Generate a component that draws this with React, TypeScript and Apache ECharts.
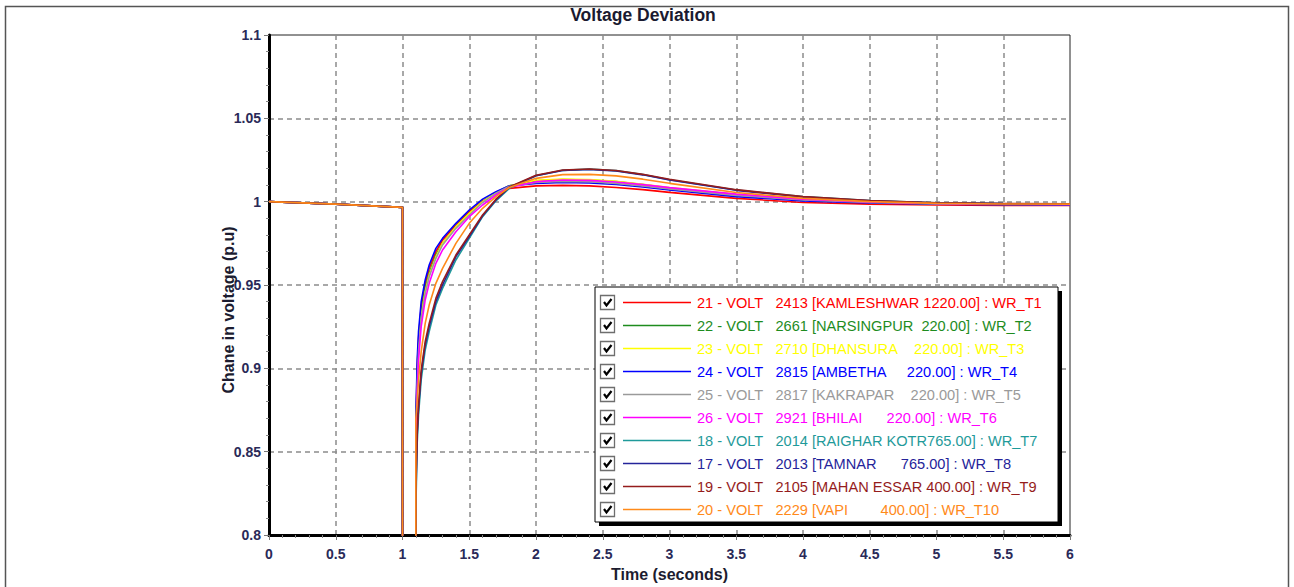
import React, { useEffect, useRef } from "react";
import * as echarts from "echarts";

// ---- data ----
const TIME = [
  0, 0.5, 1.0, 1.0, 1.1,
  1.1, 1.11, 1.12, 1.14, 1.17, 1.2, 1.25, 1.3, 1.4, 1.5, 1.6, 1.7, 1.8,
  2.0, 2.2, 2.4, 2.6, 2.8, 3.0, 3.5, 4.0, 4.5, 5.0, 5.5, 6.0,
];

// pre-fault + fault (fault value is below the visible range)
const PRE = [1.0, 0.9985, 0.9966, 0.75, 0.75];

const V21 = [0.865, 0.9, 0.918, 0.937, 0.951, 0.96, 0.97, 0.977, 0.986, 0.994, 1.0005, 1.005, 1.008, 1.0095, 1.0098, 1.0095, 1.0085, 1.0072, 1.0056, 1.002, 0.9995, 0.9985, 0.998, 0.9978, 0.9977];
const V22 = [0.86, 0.895, 0.914, 0.933, 0.948, 0.957, 0.968, 0.975, 0.985, 0.993, 1.0, 1.0055, 1.0095, 1.0125, 1.0133, 1.013, 1.012, 1.0102, 1.0082, 1.0042, 1.0012, 0.9997, 0.9988, 0.9985, 0.9984];
const V23 = [0.858, 0.893, 0.912, 0.931, 0.946, 0.956, 0.967, 0.975, 0.985, 0.993, 1.0, 1.0055, 1.0095, 1.0128, 1.0136, 1.0132, 1.0122, 1.0104, 1.0084, 1.0044, 1.0013, 0.9998, 0.9989, 0.9986, 0.9985];
const V24 = [0.87, 0.905, 0.922, 0.94, 0.953, 0.962, 0.972, 0.978, 0.987, 0.995, 1.0015, 1.006, 1.0095, 1.011, 1.0115, 1.0112, 1.0103, 1.0088, 1.007, 1.003, 1.0005, 0.9992, 0.9985, 0.9982, 0.998];
const V25 = [0.855, 0.89, 0.91, 0.93, 0.945, 0.955, 0.966, 0.974, 0.984, 0.992, 0.9995, 1.005, 1.0092, 1.0115, 1.0122, 1.012, 1.011, 1.0094, 1.0076, 1.0038, 1.001, 0.9995, 0.9987, 0.9984, 0.9983];
const V26 = [0.845, 0.885, 0.905, 0.925, 0.941, 0.951, 0.963, 0.971, 0.982, 0.991, 0.998, 1.004, 1.0085, 1.012, 1.013, 1.0128, 1.0118, 1.0102, 1.0084, 1.0045, 1.0015, 0.9998, 0.9989, 0.9985, 0.9984];
const V18 = [0.815, 0.855, 0.872, 0.893, 0.911, 0.922, 0.938, 0.948, 0.965, 0.978, 0.991, 1.0005, 1.008, 1.0155, 1.0188, 1.0195, 1.0186, 1.0163, 1.0132, 1.007, 1.003, 1.0006, 0.9993, 0.9988, 0.9987];
const V17 = [0.822, 0.86, 0.876, 0.897, 0.914, 0.925, 0.94, 0.95, 0.967, 0.979, 0.9915, 1.001, 1.0085, 1.0155, 1.0187, 1.0193, 1.0184, 1.0161, 1.013, 1.0068, 1.0028, 1.0005, 0.9992, 0.9988, 0.9986];
const V19 = [0.828, 0.862, 0.878, 0.899, 0.916, 0.927, 0.942, 0.952, 0.968, 0.98, 0.992, 1.0015, 1.0088, 1.0158, 1.019, 1.0196, 1.0187, 1.0164, 1.0134, 1.0072, 1.003, 1.0006, 0.9993, 0.9989, 0.9987];
const V20 = [0.87, 0.88, 0.893, 0.91, 0.927, 0.938, 0.951, 0.96, 0.975, 0.987, 0.996, 1.003, 1.0085, 1.014, 1.0162, 1.0164, 1.0155, 1.0135, 1.011, 1.0055, 1.002, 1.0, 0.999, 0.9986, 0.9985];

const SERIES_VALUES = [V21, V22, V23, V24, V25, V26, V18, V17, V19, V20];
const IDS = ["21", "22", "23", "24", "25", "26", "18", "17", "19", "20"];
const BUS_NUMS = ["2413", "2661", "2710", "2815", "2817", "2921", "2014", "2013", "2105", "2229"];
const BUS_NAMES = ["KAMLESHWAR 1", "NARSINGPUR  ", "DHANSURA    ", "AMBETHA     ", "KAKRAPAR    ", "BHILAI      ", "RAIGHAR KOTR", "TAMNAR      ", "MAHAN ESSAR ", "VAPI        "];
const BASE_KV = ["220.00", "220.00", "220.00", "220.00", "220.00", "220.00", "765.00", "765.00", "400.00", "400.00"];
const TAGS = ["WR_T1", "WR_T2", "WR_T3", "WR_T4", "WR_T5", "WR_T6", "WR_T7", "WR_T8", "WR_T9", "WR_T10"];
const COLORS = ["#ff0000", "#1e8c1e", "#ffff00", "#0000ff", "#9a9a9a", "#ff00ff", "#1f9a9a", "#24249a", "#951c1c", "#ff8a1a"];

const X_TICKS = { min: 0, max: 6, interval: 0.5 };
const Y_TICKS = { min: 0.8, max: 1.1, interval: 0.05 };

const TITLE = "Voltage Deviation";
const X_NAME = "Time (seconds)";
const Y_NAME = "Chane in voltage (p.u)";

const FONT = '"Liberation Sans", Arial, sans-serif';

function labelOf(i: number) {
  const s = `${IDS[i]} - VOLT   ${BUS_NUMS[i]} [${BUS_NAMES[i]}${BASE_KV[i]}] : ${TAGS[i]}`;
  return s.replace(/ /g, "\u00A0");
}

export default function App() {
  const ref = useRef<HTMLDivElement>(null);
  useEffect(() => {
    if (!ref.current) return;
    const chart = echarts.init(ref.current, null, { renderer: "svg" });

    const series = SERIES_VALUES.map((vals, i) => ({
      name: labelOf(i),
      type: "line",
      showSymbol: false,
      symbol: "none",
      clip: true,
      lineStyle: { color: COLORS[i], width: 1.6 },
      itemStyle: { color: COLORS[i] },
      data: TIME.map((t, k) => [t, k < PRE.length ? PRE[k] : vals[k - PRE.length]]),
      z: 3 + i * 0.01,
    }));

    const legendEls: any[] = [];
    const LX = 595, LY = 287, LW = 463, LH = 235, ROW0 = 302.5, ROWH = 23;
    legendEls.push({ type: "rect", shape: { x: LX + 4, y: LY + 4, width: LW, height: LH }, style: { fill: "#000" }, z: 50 });
    legendEls.push({ type: "rect", shape: { x: LX, y: LY, width: LW, height: LH }, style: { fill: "#fff", stroke: "#000", lineWidth: 1 }, z: 51 });
    IDS.forEach((_, i) => {
      const y = ROW0 + ROWH * i;
      legendEls.push({ type: "rect", shape: { x: 600.5, y: y - 7, width: 14, height: 14 }, style: { fill: "#fff", stroke: "#6e6e6e", lineWidth: 1.3 }, z: 52 });
      legendEls.push({ type: "polyline", shape: { points: [[604, y - 0.5], [606.5, y + 3], [611.5, y - 3.5]] }, style: { stroke: "#000", lineWidth: 2.2, fill: "none" }, z: 53 });
      legendEls.push({ type: "line", shape: { x1: 623, y1: y, x2: 691, y2: y }, style: { stroke: COLORS[i], lineWidth: 1.6 }, z: 52 });
      legendEls.push({
        type: "text", x: 697, y, z: 52,
        style: { text: labelOf(i), fill: COLORS[i], font: `14.6px ${FONT}`, verticalAlign: "middle", align: "left" },
      });
    });

    const axisLabelStyle = { fontFamily: FONT, fontSize: 14, fontWeight: "bold", color: "#2a2a58" };

    chart.setOption({
      animation: false,
      backgroundColor: "#ffffff",
      grid: { left: 269, top: 35, right: 224, bottom: 50, show: true, borderColor: "#222", borderWidth: 1, backgroundColor: "transparent" },
      xAxis: {
        type: "value",
        ...X_TICKS,
        name: X_NAME,
        nameLocation: "middle",
        nameGap: 31,
        nameTextStyle: { fontFamily: FONT, fontSize: 16, fontWeight: "bold", color: "#1c1c30" },
        axisLine: { show: true, onZero: false, lineStyle: { color: "#000", width: 3 } },
        axisTick: { show: true, length: 5, lineStyle: { color: "#777" } },
        minorTick: { show: true, splitNumber: 5, length: 3, lineStyle: { color: "#888" } },
        axisLabel: { ...axisLabelStyle, margin: 12 },
        splitLine: { show: true, showMinLine: false, showMaxLine: false, lineStyle: { color: "#8c8c8c", type: [5, 4], width: 1.5 } },
      },
      yAxis: {
        type: "value",
        ...Y_TICKS,
        axisLine: { show: true, onZero: false, lineStyle: { color: "#000", width: 3 } },
        axisTick: { show: true, length: 5, lineStyle: { color: "#777" } },
        minorTick: { show: true, splitNumber: 5, length: 3, lineStyle: { color: "#888" } },
        axisLabel: { ...axisLabelStyle, margin: 8 },
        splitLine: { show: true, showMinLine: false, showMaxLine: false, lineStyle: { color: "#8c8c8c", type: [5, 4], width: 1.5 } },
      },
      series,
      graphic: [
        { type: "rect", shape: { x: 5.5, y: 6.5, width: 1283, height: 700 }, style: { fill: "none", stroke: "#555", lineWidth: 1.5 }, z: 0 },
        { type: "text", x: 643, y: 15, style: { text: TITLE, font: `bold 17.5px ${FONT}`, fill: "#1a1a30", align: "center", verticalAlign: "middle" }, z: 10 },
        { type: "text", x: 228, y: 310, rotation: Math.PI / 2, style: { text: Y_NAME, font: `bold 16px ${FONT}`, fill: "#1c1c30", align: "center", verticalAlign: "middle" }, z: 10 },
        ...legendEls,
      ],
    });
    return () => chart.dispose();
  }, []);
  return <div ref={ref} style={{ position: "absolute", left: 0, top: 0, width: 1294, height: 587 }} />;
}
